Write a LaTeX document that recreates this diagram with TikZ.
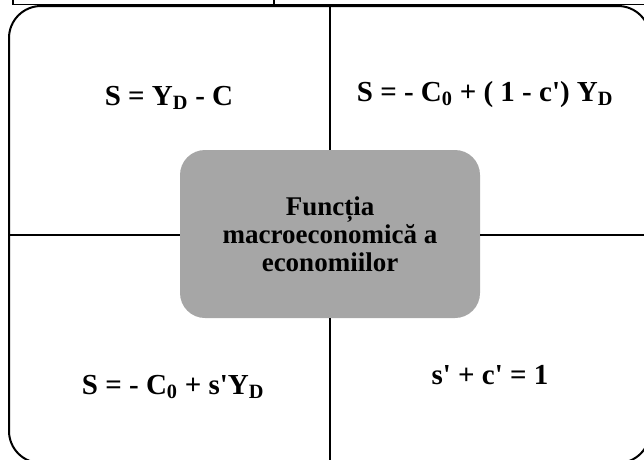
\documentclass[tikz,border=0pt]{standalone}
\usepackage{fontspec}
\setmainfont{Liberation Serif}
\usetikzlibrary{positioning}

\tikzset{
    rule/.style={line width=1.6pt},
    frame/.style={line width=2pt, rounded corners=32pt},
    core/.style={draw=none, fill=black!35, rounded corners=25pt, minimum width=300pt,
        minimum height=168pt, align=center, font=\bfseries\fontsize{27}{28}\selectfont},
    formula/.style={font=\bfseries\fontsize{29}{30}\selectfont, inner sep=0pt, anchor=base}
}
\newcommand{\lowsub}[1]{\textsubscript{#1}}
\newcommand{\prm}{\textquotesingle}

\begin{document}
\begin{tikzpicture}[x=1pt, y=-1pt]
    \useasboundingbox (0,0) rectangle (644,459);

    % bit of the table above
    \draw[rule] (13,-2) -- (13,4.5) -- (660,4.5);
    \draw[rule] (274,-2) -- (274,4.5);

    % outer frame
    \draw[frame] (9,6) rectangle (650,463);

    \node[core] (centre) at (330,234) {Funcția\\macroeconomică a\\economiilor};

    \coordinate (ntop) at (330,6);
    \coordinate (nbot) at (330,463);
    \coordinate (nleft) at (9,235);
    \coordinate (nright) at (650,235);

    \draw[rule] (ntop) -- (centre.north);
    \draw[rule] (centre.south) -- (nbot);
    \draw[rule] (nleft) -- (centre.west |- nleft);
    \draw[rule] (centre.east |- nright) -- (nright);

    \node[formula] (savings) at (169,105) {S = Y\lowsub{D} - C};
    \node[formula] (linear) at (485,101) {S = - C\lowsub{0} + ( 1 - c\prm) Y\lowsub{D}};
    \node[formula] (marginal) at (173,394) {S = - C\lowsub{0} + s\prm Y\lowsub{D}};
    \node[formula] (unity) at (490,384) {s\prm{} + c\prm{} = 1};
\end{tikzpicture}
\end{document}
